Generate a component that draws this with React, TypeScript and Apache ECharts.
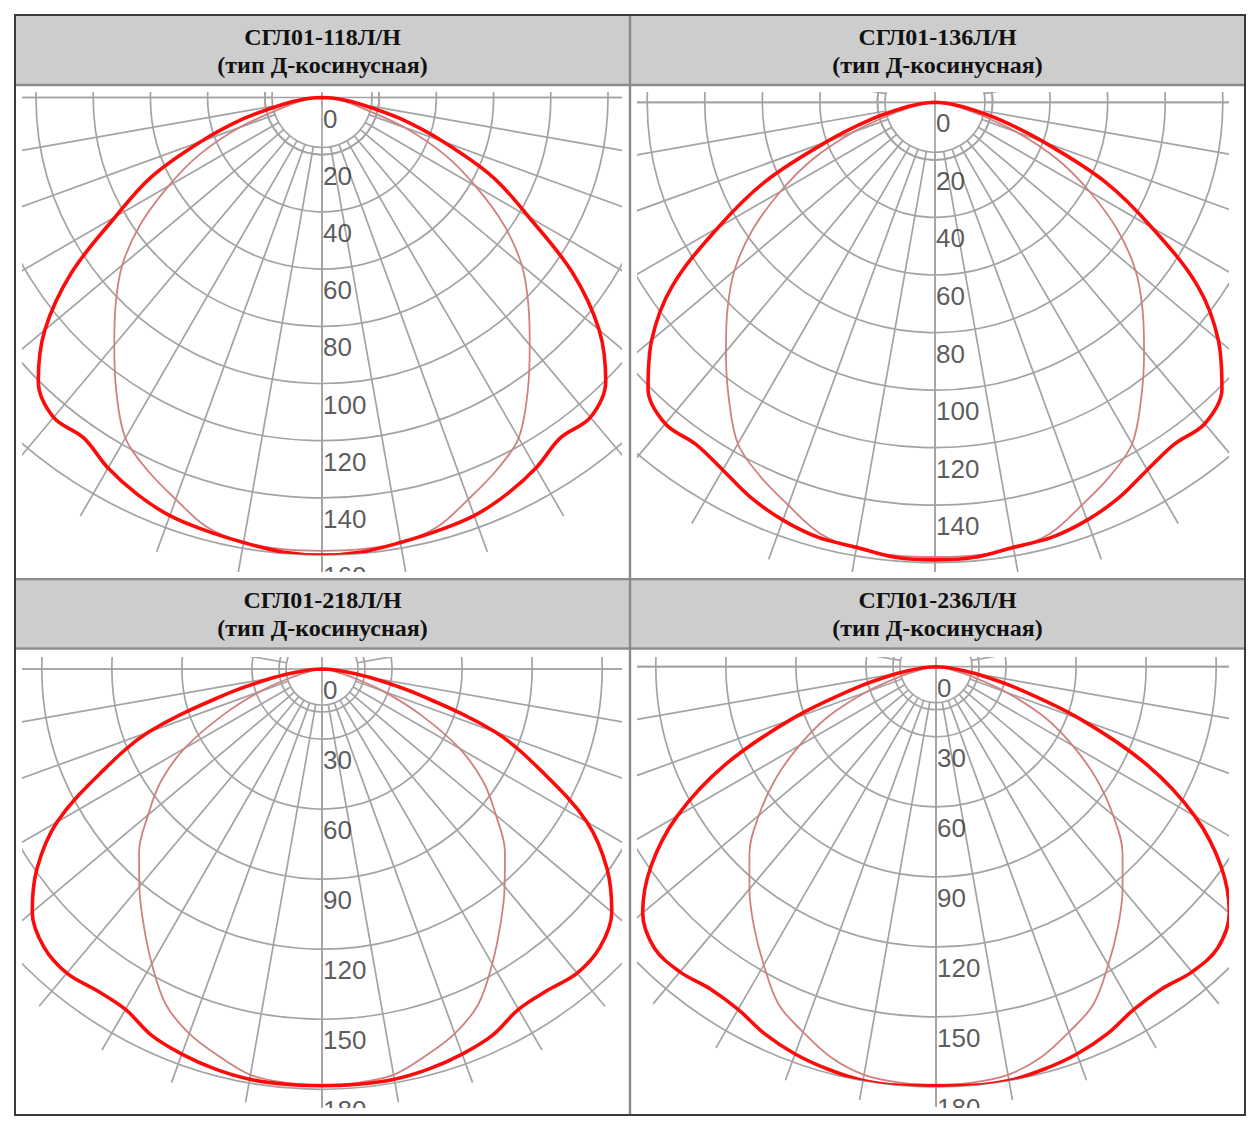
import React, { useEffect, useRef } from "react";
import * as echarts from "echarts";

// ---------- data ----------
const GAMMA = [0, 5, 10, 15, 20, 25, 30, 35, 40, 45, 50, 55, 60, 65, 70, 75, 80, 85, 90];

const TITLES = ["СГЛ01-118Л/Н", "СГЛ01-136Л/Н", "СГЛ01-218Л/Н", "СГЛ01-236Л/Н"];
const SUBTITLE = "(тип Д-косинусная)";

const TICKS_A = [0, 20, 40, 60, 80, 100, 120, 140, 160];
const TICKS_B = [0, 30, 60, 90, 120, 150, 180];

const THICK_1 = [160, 159.5, 158, 156.8, 155.6, 153, 149.6, 145.3, 146, 140.3, 126.5, 107, 83.4, 66, 45, 28, 14, 6, 0];
const THIN_1 = [158.5, 158.5, 158, 155.5, 149.5, 144, 137.5, 125.4, 113, 102, 91.2, 77.6, 62, 47.3, 30.9, 15, 8, 3, 0];

const THICK_2 = [159, 158.7, 157, 156.5, 154.5, 151.5, 147.5, 145, 145.8, 141, 128.5, 111.5, 87, 65, 40, 23, 11, 4, 0];
const THIN_2 = [158, 158, 157.5, 155, 149, 143.5, 137, 125, 113, 102, 91, 77.5, 62, 47, 30, 15, 7, 2.5, 0];

const THICK_3 = [178.5, 178.5, 178.4, 177.3, 175.5, 173, 168.3, 168.1, 170, 168.4, 162, 149, 131, 104, 79, 44, 21, 7, 0];
const THIN_3 = [178, 177.8, 176.5, 171.5, 166.2, 158.4, 145.8, 133.3, 121.7, 110.8, 97.2, 84.4, 68, 47, 28.3, 13, 5, 1.5, 0];

const THICK_4 = [179.5, 180, 180, 178.5, 176.5, 173.5, 169.5, 168.5, 170.6, 170.5, 164, 149, 128, 100, 66, 36, 17, 6, 0];
const THIN_4 = [179, 178.8, 177.5, 173.3, 166.5, 159.5, 147.5, 135.9, 124.3, 113, 99, 84, 67.6, 51.5, 32, 15, 5.5, 1.5, 0];

const PANEL_DATA = [
  { title: TITLES[0], thick: THICK_1, thin: THIN_1, ticks: TICKS_A },
  { title: TITLES[1], thick: THICK_2, thin: THIN_2, ticks: TICKS_A },
  { title: TITLES[2], thick: THICK_3, thin: THIN_3, ticks: TICKS_B },
  { title: TITLES[3], thick: THICK_4, thin: THIN_4, ticks: TICKS_B },
];

// ---------- layout / style ----------
const LAYOUTS = [
  { left: 22, top: 92, width: 600, height: 480, cx: 300, cy: 5.5, k: 2.86, lineEnd: 169, ringIn: 50, ringOut: 57.2 },
  { left: 637, top: 92, width: 592, height: 480, cx: 298, cy: 10.3, k: 2.878, lineEnd: 169, ringIn: 50, ringOut: 57.6 },
  { left: 22, top: 657, width: 600, height: 451, cx: 300, cy: 12, k: 2.335, lineEnd: 188.5, ringIn: 36, ringOut: 43 },
  { left: 637, top: 657, width: 592, height: 451, cx: 299, cy: 9.7, k: 2.335, lineEnd: 188.5, ringIn: 36, ringOut: 43 },
];

const HEADER_CENTERS = [
  { x: 322.5, y1: 37, y2: 65 },
  { x: 937.5, y1: 37, y2: 65 },
  { x: 322.5, y1: 600, y2: 628 },
  { x: 937.5, y1: 600, y2: 628 },
];

const GRID_LINE = { color: "#a3a3a3", width: 1.7 };
const THICK_COLOR = "#ff0a0a";
const THIN_COLOR = "#cf8080";
const LABEL_SIZE = 26;
const LABEL_DY = 21;

function curve(values: number[]): number[][] {
  const right = GAMMA.map((g, i) => [values[i], 360 - g]).reverse();
  const left = GAMMA.map((g, i) => [values[i], g]).slice(1);
  return [...right, ...left];
}

function buildPanelOption(p: any, L: any) {
  const ticks: number[] = p.ticks;
  const step = ticks[1] - ticks[0];
  const max = ticks[ticks.length - 1];
  const center = [L.cx, L.cy];
  // only labels whose glyph tops fall inside the plot window
  const labelTicks = ticks.filter((t) => L.cy + t * L.k + LABEL_DY - LABEL_SIZE * 0.36 < L.height - 1);
  const angleBase = {
    type: "value",
    min: 0,
    max: 360,
    startAngle: 270,
    clockwise: true,
    axisLine: { show: false },
    axisTick: { show: false },
    axisLabel: { show: false },
    splitLine: { show: false },
  };
  const radiusHidden = {
    type: "value",
    min: 0,
    max: 1,
    axisLine: { show: false },
    axisTick: { show: false },
    axisLabel: { show: false },
    splitLine: { show: false },
  };
  return {
    animation: false,
    polar: [
      { center, radius: max * L.k },
      { center, radius: [L.ringIn, L.lineEnd * L.k] },
      { center, radius: [L.ringIn, L.ringOut] },
      { center, radius: L.lineEnd * L.k },
    ],
    angleAxis: [
      { ...angleBase, polarIndex: 0 },
      { ...angleBase, polarIndex: 1, interval: 10, splitLine: { show: true, lineStyle: GRID_LINE } },
      { ...angleBase, polarIndex: 2, interval: 10, axisLine: { show: true, lineStyle: GRID_LINE } },
      { ...angleBase, polarIndex: 3, interval: 90, splitLine: { show: true, lineStyle: GRID_LINE } },
    ],
    radiusAxis: [
      {
        polarIndex: 0,
        type: "value",
        min: 0,
        max,
        interval: step,
        axisLine: { show: false },
        axisTick: { show: false },
        axisLabel: { show: false },
        splitLine: { show: true, lineStyle: GRID_LINE },
      },
      { ...radiusHidden, polarIndex: 1 },
      { ...radiusHidden, polarIndex: 2 },
      { ...radiusHidden, polarIndex: 3 },
    ],
    series: [
      {
        type: "line",
        coordinateSystem: "polar",
        polarIndex: 0,
        data: curve(p.thin),
        smooth: 0.35,
        symbol: "none",
        clip: false,
        lineStyle: { color: THIN_COLOR, width: 1.8 },
        z: 3,
        silent: true,
      },
      {
        type: "line",
        coordinateSystem: "polar",
        polarIndex: 0,
        data: curve(p.thick),
        smooth: 0.35,
        symbol: "none",
        clip: false,
        lineStyle: { color: THICK_COLOR, width: 3.6 },
        z: 4,
        silent: true,
      },
      {
        type: "scatter",
        coordinateSystem: "polar",
        polarIndex: 0,
        symbolSize: 0,
        silent: true,
        z: 5,
        data: labelTicks.map((t) => [t, 0]),
        label: {
          show: true,
          position: "right",
          distance: 1,
          offset: [0, LABEL_DY],
          formatter: (q: any) => String(q.value[0]),
          fontSize: LABEL_SIZE,
          fontFamily: "Liberation Sans",
          color: "#303030",
        },
      },
    ],
  };
}

function buildFrameOption() {
  const lines: any[] = [];
  const inner = { stroke: "#8a8a8a", lineWidth: 2.4 };
  lines.push({ type: "line", shape: { x1: 15, y1: 85, x2: 1245, y2: 85 }, style: inner });
  lines.push({ type: "line", shape: { x1: 15, y1: 579.3, x2: 1245, y2: 579.3 }, style: inner });
  lines.push({ type: "line", shape: { x1: 15, y1: 648.5, x2: 1245, y2: 648.5 }, style: inner });
  lines.push({ type: "line", shape: { x1: 630, y1: 15, x2: 630, y2: 1115 }, style: inner });
  const texts: any[] = [];
  PANEL_DATA.forEach((p, i) => {
    const h = HEADER_CENTERS[i];
    const font = { fontFamily: "Liberation Serif", fontWeight: "bold", fontSize: 24, fill: "#111111" };
    texts.push({
      type: "text",
      x: h.x,
      y: h.y1,
      style: { text: p.title, ...font, align: "center", verticalAlign: "middle", textAlign: "center", textVerticalAlign: "middle" },
    });
    texts.push({
      type: "text",
      x: h.x,
      y: h.y2,
      style: { text: SUBTITLE, ...font, align: "center", verticalAlign: "middle", textAlign: "center", textVerticalAlign: "middle" },
    });
  });
  return {
    animation: false,
    graphic: [
      { type: "rect", shape: { x: 16, y: 16, width: 1228, height: 68 }, style: { fill: "#cdcdcd" } },
      { type: "rect", shape: { x: 16, y: 580.5, width: 1228, height: 67 }, style: { fill: "#cdcdcd" } },
      ...lines,
      { type: "rect", shape: { x: 15, y: 15, width: 1230, height: 1100 }, style: { fill: "none", stroke: "#3a3a3a", lineWidth: 2 } },
      ...texts,
    ],
  };
}

function Frame() {
  const ref = useRef<HTMLDivElement>(null);
  useEffect(() => {
    const chart = echarts.init(ref.current!, undefined, { renderer: "svg" });
    chart.setOption(buildFrameOption());
    return () => chart.dispose();
  }, []);
  return <div ref={ref} style={{ position: "absolute", left: 0, top: 0, width: 1260, height: 1130 }} />;
}

function Panel({ index }: { index: number }) {
  const ref = useRef<HTMLDivElement>(null);
  const L = LAYOUTS[index];
  useEffect(() => {
    const chart = echarts.init(ref.current!, undefined, { renderer: "svg" });
    chart.setOption(buildPanelOption(PANEL_DATA[index], L));
    return () => chart.dispose();
  }, []);
  return (
    <div
      ref={ref}
      style={{ position: "absolute", left: L.left, top: L.top, width: L.width, height: L.height, overflow: "hidden" }}
    />
  );
}

export default function App() {
  return (
    <div style={{ position: "absolute", left: 0, top: 0, width: 1260, height: 1130, background: "#ffffff" }}>
      <Frame />
      {PANEL_DATA.map((_, i) => (
        <Panel key={i} index={i} />
      ))}
    </div>
  );
}
